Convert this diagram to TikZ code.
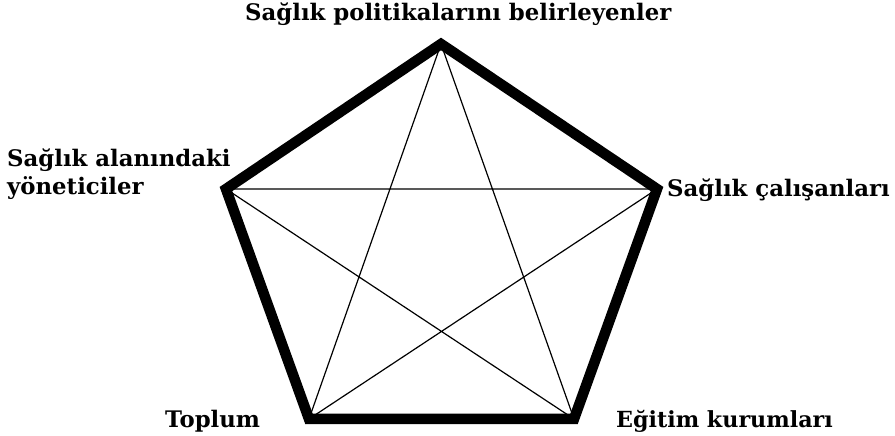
\documentclass[tikz,border=0pt]{standalone}
\usepackage{fontspec}
\setmainfont{DejaVu Serif}
\begin{document}
\begin{tikzpicture}[x=1pt,y=1pt,
  thin line/.style={line width=1.2pt},
  thick frame/.style={line width=10.5pt,line join=miter},
  lbl/.style={anchor=base west,inner sep=0pt,font=\bfseries\fontsize{22.8}{28}\selectfont}]
\useasboundingbox (0,0) rectangle (895,436);
\coordinate (T) at (441,392);
\coordinate (L) at (226,247);
\coordinate (R) at (657,247);
\coordinate (BL) at (309,17);
\coordinate (BR) at (574,17);
\draw[thin line] (T) -- (BL) (T) -- (BR) (L) -- (R) (L) -- (BR) (R) -- (BL);
\draw[thick frame] (T) -- (R) -- (BR) -- (BL) -- (L) -- cycle;
\node[lbl] (tl) at (245,415) {Sağlık politikalarını belirleyenler};
\node[lbl,align=left] (ll) at (7,241) {Sağlık alanındaki\\yöneticiler};
\node[lbl] (rl) at (667,239) {Sağlık çalışanları};
\node[lbl] (bl) at (165,8) {Toplum};
\node[lbl,font=\bfseries\fontsize{22.2}{28}\selectfont] (br) at (616,8) {Eğitim kurumları};
\end{tikzpicture}
\end{document}
